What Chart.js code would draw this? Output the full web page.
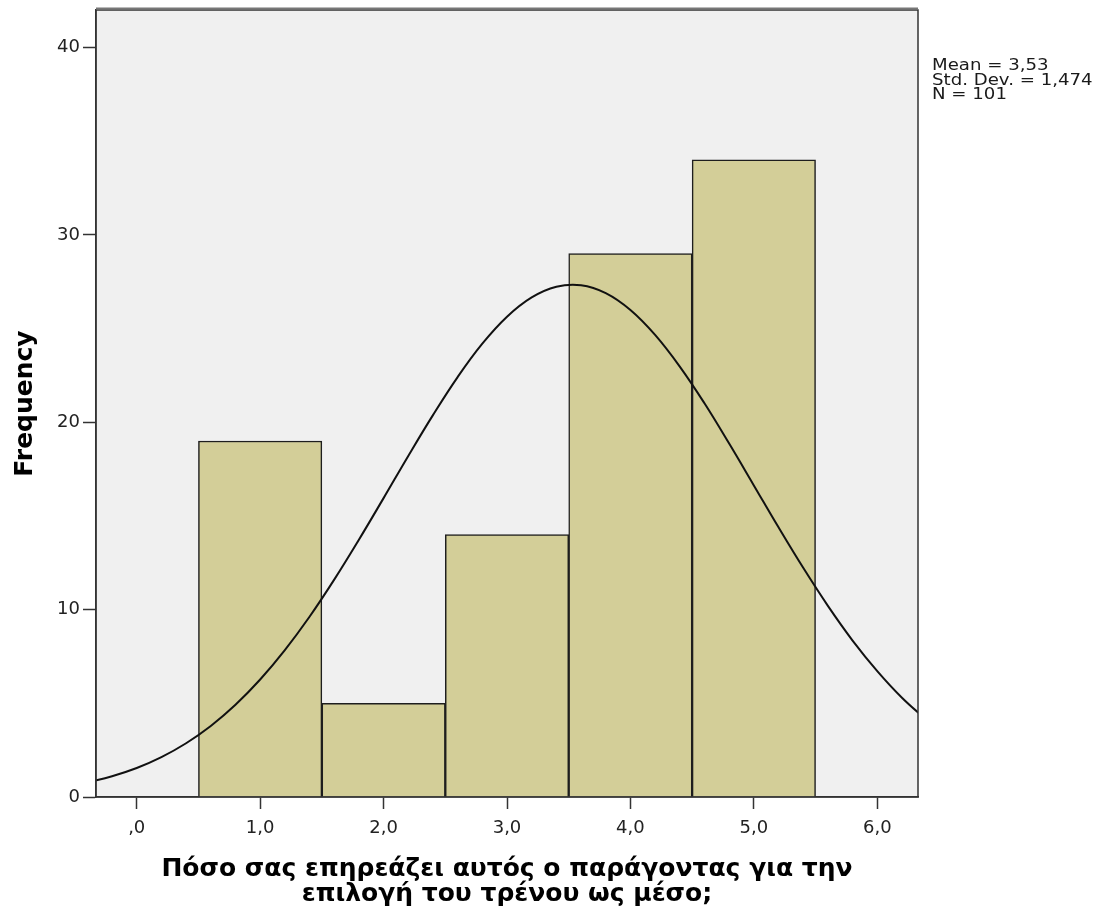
<!DOCTYPE html>
<html>
<head>
<meta charset="utf-8">
<script src="https://cdn.jsdelivr.net/npm/chart.js@4.4.1/dist/chart.umd.min.js"></script>
<style>
  html, body { margin: 0; padding: 0; background: #ffffff; }
  canvas { display: block; }
</style>
</head>
<body>
<canvas id="c" width="1101" height="914"></canvas>
<script>
// ---- data ----
const binCenters = [1, 2, 3, 4, 5];
const frequencies = [19, 5, 14, 29, 34];

// normal curve (Mean 3,53, Std. Dev. 1,474, N 101), heights
const curveX = [-0.4, -0.2, 0.0, 0.2, 0.4, 0.6, 0.8, 1.0, 1.2, 1.4, 1.6, 1.8, 2.0, 2.2, 2.4, 2.6, 2.8, 3.0, 3.2, 3.4, 3.6, 3.8, 4.0, 4.2, 4.4, 4.6, 4.8, 5.0, 5.2, 5.4, 5.6, 5.8, 6.0, 6.2, 6.4];
const curveY = [0.78, 1.11, 1.55, 2.13, 2.87, 3.79, 4.92, 6.27, 7.84, 9.62, 11.60, 13.73, 15.95, 18.20, 20.38, 22.41, 24.19, 25.63, 26.66, 27.23, 27.31, 26.89, 25.99, 24.66, 22.97, 21.01, 18.86, 16.63, 14.39, 12.23, 10.20, 8.35, 6.72, 5.30, 4.11];

const xTickValues = [0, 1, 2, 3, 4, 5, 6];
const xTickLabels = [',0', '1,0', '2,0', '3,0', '4,0', '5,0', '6,0'];
const yTickValues = [0, 10, 20, 30, 40];
const yTickLabels = ['0', '10', '20', '30', '40'];

const statsLines = ['Mean = 3,53', 'Std. Dev. = 1,474', 'N = 101'];
const xAxisTitle = ['Πόσο σας επηρεάζει αυτός ο παράγοντας για την', 'επιλογή του τρένου ως μέσο;'];
const yAxisTitle = 'Frequency';

const FONT = '"DejaVu Sans", "Liberation Sans", Arial, sans-serif';

// ---- plugins (background, frame, stats text) ----
const plotDecor = {
  id: 'plotDecor',
  beforeDraw(chart) {
    const a = chart.chartArea, ctx = chart.ctx;
    ctx.save();
    ctx.fillStyle = '#f0f0f0';
    ctx.fillRect(a.left, a.top, a.right - a.left, a.bottom - a.top);
    ctx.restore();
  },
  afterDraw(chart) {
    const a = chart.chartArea, ctx = chart.ctx;
    ctx.save();
    ctx.strokeStyle = '#333333';
    ctx.lineWidth = 1.5;
    ctx.strokeRect(a.left, a.top, a.right - a.left, a.bottom - a.top);
    ctx.strokeStyle = '#777777';
    ctx.lineWidth = 2;
    ctx.beginPath();
    ctx.moveTo(a.left, a.top - 1.5);
    ctx.lineTo(a.right, a.top - 1.5);
    ctx.stroke();
    ctx.fillStyle = '#1a1a1a';
    ctx.font = '16.5px ' + FONT;
    ctx.textBaseline = 'middle';
    ctx.textAlign = 'left';
    statsLines.forEach((t, i) => {
      ctx.save();
      ctx.translate(a.right + 14, 66 + i * 14.5);
      ctx.scale(1.1, 1);
      ctx.fillText(t, 0, 0);
      ctx.restore();
    });
    ctx.restore();
  }
};

const tickFont = { family: FONT, size: 18 };

new Chart(document.getElementById('c'), {
  type: 'bar',
  data: {
    datasets: [
      {
        type: 'line',
        data: curveX.map((x, i) => ({ x: x, y: curveY[i] })),
        borderColor: '#111111',
        borderWidth: 2,
        pointRadius: 0,
        tension: 0.4,
        fill: false,
        order: 0
      },
      {
        type: 'bar',
        data: binCenters.map((x, i) => ({ x: x, y: frequencies[i] })),
        backgroundColor: '#d3ce98',
        borderColor: '#1e1e1e',
        borderWidth: 1.5,
        categoryPercentage: 1.0,
        barPercentage: 1.0,
        order: 1
      }
    ]
  },
  options: {
    responsive: false,
    animation: false,
    events: [],
    layout: { padding: { left: 0, right: 183, top: 10, bottom: 0 } },
    plugins: { legend: { display: false }, tooltip: { enabled: false }, title: { display: false } },
    scales: {
      x: {
        type: 'linear',
        offset: false,
        min: -0.33,
        max: 6.33,
        afterBuildTicks(axis) { axis.ticks = xTickValues.map(v => ({ value: v })); },
        afterFit(axis) { axis.height = 117; axis.paddingLeft = 0; axis.paddingRight = 0; },
        ticks: {
          autoSkip: false,
          maxRotation: 0,
          color: '#222222',
          font: tickFont,
          padding: 9,
          callback: (value) => xTickLabels[xTickValues.indexOf(value)]
        },
        grid: { display: true, offset: false, drawOnChartArea: false, drawTicks: true, tickLength: 12, tickColor: '#333333', tickWidth: 1.5 },
        border: { display: true, color: '#333333', width: 1.5 },
        title: {
          display: true,
          text: xAxisTitle,
          color: '#000000',
          font: { family: FONT, size: 25, weight: 'bold', lineHeight: '25px' },
          padding: { top: 0, bottom: 7.5 }
        }
      },
      y: {
        type: 'linear',
        min: 0,
        max: 42,
        afterBuildTicks(axis) { axis.ticks = yTickValues.map(v => ({ value: v })); },
        afterFit(axis) { axis.width = 96; axis.paddingTop = 0; axis.paddingBottom = 0; },
        ticks: {
          color: '#222222',
          font: tickFont,
          padding: 3,
          callback: (value) => yTickLabels[yTickValues.indexOf(value)]
        },
        grid: { display: true, drawOnChartArea: false, drawTicks: true, tickLength: 13, tickColor: '#333333', tickWidth: 1.5 },
        border: { display: true, color: '#333333', width: 1.5 },
        title: {
          display: true,
          text: yAxisTitle,
          color: '#000000',
          font: { family: FONT, size: 25, weight: 'bold', lineHeight: '25px' },
          padding: { top: 12.5, bottom: 0 }
        }
      }
    }
  },
  plugins: [plotDecor]
});
</script>
</body>
</html>
